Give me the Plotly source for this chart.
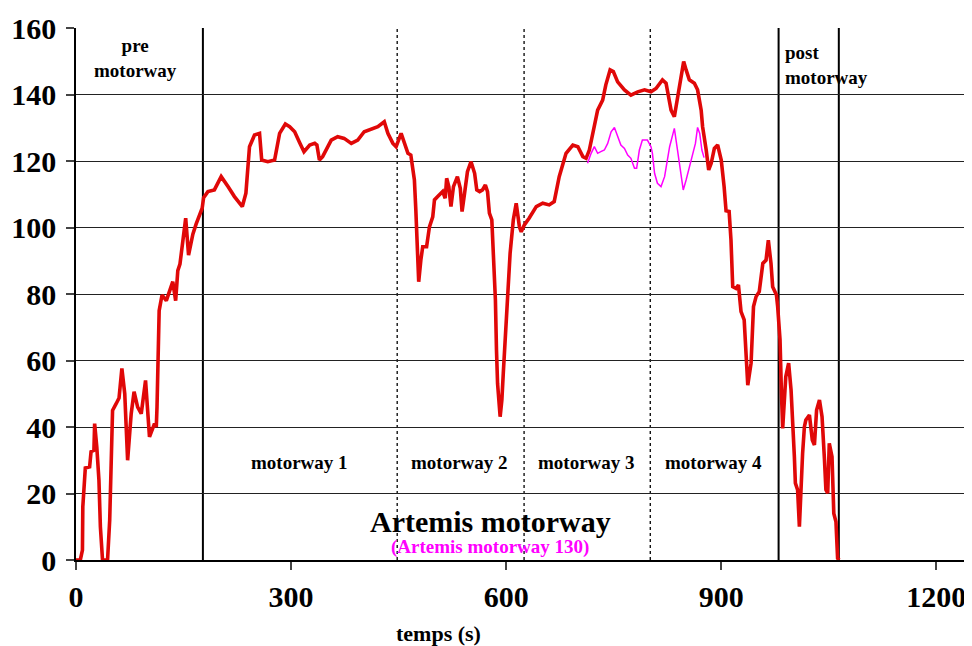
import plotly.graph_objects as go

# ---- data ----
red_t = [0, 6, 9, 9.5, 13, 19, 21, 25, 26, 29, 32, 34, 37, 44, 47, 48, 51, 56, 60, 64,
         68, 72, 77, 81, 86, 91, 97, 102.5, 109.5, 112, 113, 116, 120, 126, 135, 139, 142, 145, 153, 157,
         163, 167.5, 172, 176, 178, 184, 193, 202.5, 212, 221, 232, 237, 242, 249, 256, 259, 267.5, 277, 284, 292,
         298, 305, 312, 318, 326, 333, 336, 339.5, 344, 356, 365, 374, 384, 393, 402, 414, 421, 430, 435, 442,
         446.5, 453.5, 458, 463, 467, 470, 472, 474, 476.6, 478, 481, 483.6, 489, 493, 497.6, 500, 504.5, 511.5, 515, 517,
         520, 523, 526.5, 529, 532, 536, 538.5, 542, 546, 551, 556, 559, 563, 567, 571, 574, 576.6, 580, 583.6, 585,
         586.5, 588, 591.6, 594, 596, 599, 602, 605.5, 610, 614, 618.5, 621, 625.4, 632, 642, 651, 660, 667, 674, 683.5,
         693, 700, 707, 711.5, 716, 720.7, 727.6, 734.6, 739, 745, 749.5, 755.5, 765, 774, 783.5, 793, 802, 809, 818, 823,
         830, 834.6, 839, 844, 847.6, 851, 855.5, 862.5, 867, 872, 874, 879, 882.5, 886, 890.4, 895, 900, 904, 906.7, 911,
         913.6, 916, 920.6, 924, 927.6, 932, 934.6, 937, 941.6, 945, 948.6, 953, 958, 962.5, 965.7, 969.4, 971.7, 977, 978.7, 982,
         984, 985.7, 990, 994, 997.4, 999.6, 1002, 1003.4, 1006.5, 1009, 1011, 1013.5, 1016, 1018, 1023, 1027, 1030, 1033, 1037, 1040.6,
         1044, 1046, 1048.5, 1050.7, 1054.5, 1057, 1060, 1062.3, 1064.6]
red_v = [0, 0, 3, 16, 27.7, 28, 32.6, 33, 41, 34, 24, 10, 0, 0, 12, 20, 45, 47, 48.7, 57.6,
         50, 30, 44, 50.6, 46, 44, 54, 37, 41, 40, 46, 75, 79.7, 78, 83.7, 78, 87, 89, 102.8, 91.7,
         98, 101, 103.8, 105.8, 109, 110.8, 111.3, 115.3, 112.3, 109.3, 106.3, 110.3, 124.3, 127.8, 128.3, 120.3, 119.8, 120.3, 128.3, 131.1,
         130.3, 128.8, 125.5, 122.8, 124.8, 125.3, 124.8, 120.3, 121.3, 126.3, 127.3, 126.8, 125.3, 126.3, 128.8, 129.8, 130.3, 131.8, 128.3, 125.3,
         124.3, 128.3, 125.8, 122.3, 121.8, 117.3, 114.3, 105.3, 93.2, 83.7, 90.2, 94.2, 94.2, 100.2, 103.2, 108.3, 109.3, 110.8, 108.8, 114.8,
         112.3, 106.3, 112.3, 113.8, 115.3, 111.8, 104.8, 110.3, 116.8, 119.8, 116.3, 111.3, 110.8, 111.3, 112.8, 110.8, 104.3, 102.3, 88.2, 78.2,
         63.2, 53.1, 43.1, 48.1, 56.2, 68.2, 80.2, 92.2, 102.3, 107.3, 100.2, 98.7, 100.8, 102.8, 106.3, 107.3, 106.8, 107.8, 115.3, 122.3,
         124.8, 124.3, 121.3, 120.8, 123.3, 128.3, 135.3, 138.3, 142.9, 147.4, 146.9, 143.8, 141.4, 139.8, 140.8, 141.4, 140.8, 141.8, 144.4, 143.4,
         135.3, 133.3, 139.3, 146.4, 149.9, 147.4, 144.4, 143.4, 141.4, 135.3, 130.3, 123.3, 117.3, 119.3, 123.8, 124.8, 120.3, 112.3, 105, 104.8,
         96.2, 82.2, 81.7, 82.7, 74.7, 72.2, 63.2, 52.6, 59.2, 76.2, 79.2, 80.7, 89.2, 90.2, 96.2, 89.2, 82.2, 79.7, 76.2, 66.2,
         50, 39.6, 55.1, 59.2, 51.1, 43.1, 31.1, 23.1, 21.1, 10, 23.1, 32.1, 40.1, 42.1, 43.6, 36.1, 34.6, 45.1, 48.1, 43.1,
         30.1, 21.1, 20.1, 35.1, 31.1, 14, 11.5, 0.5, 0]

mag_t = [713.5, 718.5, 723, 727.6, 732, 737, 741.6, 746.4, 751, 755.5, 760, 765, 769.5, 774, 779, 782, 785.8, 790, 797,
         802, 804, 807, 811, 816, 821, 828, 834.6, 839, 844, 847, 851, 858, 864, 867, 870, 873, 876]
mag_v = [119.3, 122.3, 124.3, 122.3, 122.8, 123.3, 125.3, 128.8, 130.1, 127.3, 124.8, 123.8, 121.8, 120.8, 117.8, 117.8, 123.3, 126.3, 126.3,
         124.3, 122.3, 116.3, 113.3, 112.3, 115.3, 124.3, 129.8, 123.3, 115.3, 111.3, 114.3, 120.3, 125.3, 130.1, 128.3, 123.3, 121]

x_ticks = [0, 300, 600, 900, 1200]
y_ticks = [0, 20, 40, 60, 80, 100, 120, 140, 160]
bounds_solid = [177, 980, 1064]
bounds_dotted = [448, 625, 801]

# phase labels: (text, x, y, xanchor)
phase_labels = [
    ("pre<br>motorway", 83, 151, "center"),
    ("post<br>motorway", 986, 149, "left"),
    ("motorway 1", 312, 29.2, "center"),
    ("motorway 2", 535, 29.2, "center"),
    ("motorway 3", 712, 29.2, "center"),
    ("motorway 4", 889, 29.2, "center"),
]

FONT = "Liberation Serif"

fig = go.Figure()
fig.add_trace(go.Scatter(x=red_t, y=red_v, mode="lines",
                         line=dict(color="rgb(224,8,8)", width=3.6), name="Artemis motorway"))
fig.add_trace(go.Scatter(x=mag_t, y=mag_v, mode="lines",
                         line=dict(color="#ff00ff", width=1.5), name="Artemis motorway 130"))

for xv in bounds_solid:
    fig.add_vline(x=xv, line=dict(color="black", width=2), layer="below")
for xv in bounds_dotted:
    fig.add_vline(x=xv, line=dict(color="black", width=1.3, dash="dot"), layer="below")

for txt, xv, yv, xa in phase_labels:
    fig.add_annotation(x=xv, y=yv, xref="x", yref="y", text=txt, showarrow=False,
                       xanchor=xa, yanchor="middle", align=xa,
                       font=dict(family=FONT, size=19, color="black", weight="bold"))

fig.add_annotation(x=578, y=11.7, xref="x", yref="y", text="Artemis motorway", showarrow=False,
                   font=dict(family=FONT, size=30, color="black", weight="bold"))
fig.add_annotation(x=578, y=4.0, xref="x", yref="y", text="(Artemis motorway 130)", showarrow=False,
                   font=dict(family=FONT, size=19, color="#ff00ff", weight="bold"))
fig.add_annotation(x=505, y=0, xref="x", yref="paper", yanchor="middle", yshift=-73,
                   text="temps (s)", showarrow=False,
                   font=dict(family=FONT, size=22, color="black", weight="bold"))

# page body adds an 8px margin; size/margins compensate for it
fig.update_layout(
    width=964, height=638,
    margin=dict(l=68, r=7, t=20, b=86, autoexpand=False),
    paper_bgcolor="white", plot_bgcolor="white",
    showlegend=False,
    xaxis=dict(range=[0, 1240], tickvals=x_ticks, ticktext=[str(v) for v in x_ticks],
               automargin=False,
               showgrid=False, zeroline=False, showline=True, linecolor="black", linewidth=1.5,
               ticks="outside", ticklen=8, tickcolor="#444", tickwidth=1.5,
               ticklabelstandoff=1,
               tickfont=dict(family=FONT, size=30, color="black", weight="bold")),
    yaxis=dict(range=[0, 160], tickvals=y_ticks, ticktext=[str(v) for v in y_ticks],
               automargin=False,
               showgrid=True, gridcolor="#222", gridwidth=1, zeroline=False,
               showline=True, linecolor="black", linewidth=1.5,
               ticks="outside", ticklen=8, tickcolor="#444", tickwidth=1.5,
               ticklabelstandoff=4,
               tickfont=dict(family=FONT, size=30, color="black", weight="bold")),
)

fig.write_html("out.html")
